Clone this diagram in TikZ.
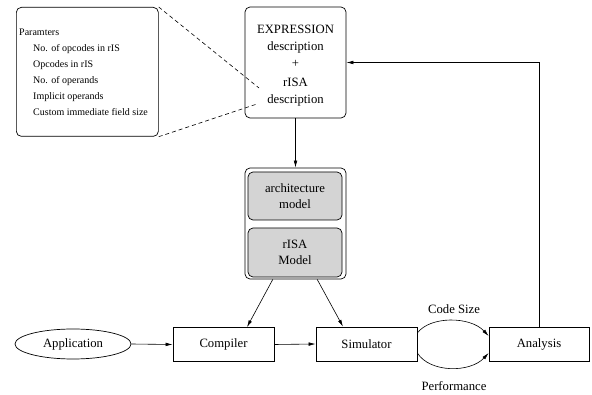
\documentclass[tikz,border=0pt]{standalone}
\usepackage{fontspec}
\setmainfont{Liberation Serif}
\usetikzlibrary{arrows.meta,calc,shapes.geometric}
\begin{document}
\begin{tikzpicture}[x=1pt,y=-1pt,
  every node/.style={font=\fontsize{12.7}{17}\selectfont, inner sep=0pt},
  box/.style={draw, line width=0.7pt, minimum width=101pt, minimum height=34pt},
  rbox/.style={draw, line width=0.7pt, rounded corners=5pt},
  gbox/.style={draw, line width=0.7pt, rounded corners=5pt, fill=black!17, minimum width=94pt, align=center, font=\fontsize{12.7}{16}\selectfont},
  arr/.style={line width=0.6pt, -{Latex[length=7pt,width=3.6pt]}},
  dsh/.style={line width=0.6pt, dash pattern=on 4pt off 3pt}
]
\useasboundingbox (0,0) rectangle (592,395);
% parameters box
\node[rbox, minimum width=142pt, minimum height=129pt, anchor=north west] (params) at (16,7) {};
\node[anchor=north west, align=left, font=\fontsize{10}{16}\selectfont] (ptext) at (19,28.5)
  {Paramters\\
   \hspace*{14pt}No. of opcodes in rIS\\
   \hspace*{14pt}Opcodes in rIS\\
   \hspace*{14pt}No. of operands\\
   \hspace*{14pt}Implicit operands\\
   \hspace*{14pt}Custom immediate field size};
% expression box
\node[rbox, minimum width=101pt, minimum height=111pt] (expr) at (295.5,62.5) {};
\node[align=center] (etext) at (295.5,65.5)
  {EXPRESSION\\description\\+\\[2pt]rISA\\description};
\coordinate (d1) at (259,88);
\coordinate (d2) at (257,104);
\draw[dsh] (params.north east) -- (d1);
\draw[dsh] (params.south east) -- (d2);
% model box
\node[rbox, minimum width=101pt, minimum height=111pt] (model) at (295.5,223.5) {};
\node[gbox, minimum height=48pt] (arch) at (295,196) {architecture\\model};
\node[gbox, minimum height=49pt] (risa) at (295,252.5) {rISA\\Model};
% bottom row
\node[draw, ellipse, line width=0.7pt, minimum width=116pt, minimum height=30pt] (app) at (73,344) {Application};
\node[box] (comp) at (223.5,344.5) {Compiler};
\node[box] (sim) at (366.5,344) {Simulator};
\node[box, minimum width=100pt] (ana) at (539,344) {Analysis};
% connectors
\draw[arr] (expr.south) -- (model.north);
\draw[arr] ($(model.south west)!0.277!(model.south east)$) -- ($(comp.north)+(23.5,0)$);
\draw[arr] ($(model.south west)!0.713!(model.south east)$) -- ($(sim.north)+(-23.5,0)$);
\draw[arr] (app.east) -- (comp.west);
\draw[arr] (comp.west -| comp.east) -- (sim.west);
\draw[arr] (ana.north) |- (expr.east);
\draw[arr] ($(sim.east)+(0,-11)$) .. controls (430,316) and (470,316) .. ($(ana.west)+(0,-8)$);
\draw[arr] ($(sim.east)+(0,9)$) .. controls (430,373) and (470,373) .. ($(ana.west)+(0,9)$);
\node (cs) at (454,309) {Code Size};
\node (perf) at (454,386) {Performance};
\end{tikzpicture}
\end{document}
